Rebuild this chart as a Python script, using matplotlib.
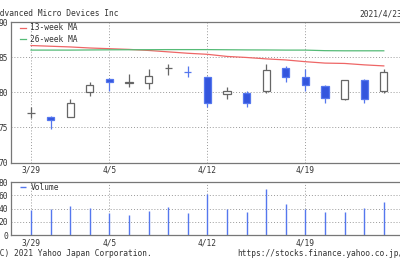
import matplotlib
matplotlib.use("Agg")
import matplotlib.pyplot as plt
import numpy as np

# trading days shown (4/2 market holiday)
dates = ["3/29", "3/30", "3/31", "4/1", "4/5", "4/6", "4/7", "4/8", "4/9",
         "4/12", "4/13", "4/14", "4/15", "4/16", "4/19", "4/20", "4/21", "4/22", "4/23"]
opens = [77.1, 76.5, 76.5, 80.1, 81.9, 81.3, 81.3, 83.5, 82.9,
         82.2, 79.7, 79.9, 80.2, 83.4, 82.2, 80.9, 79.0, 81.8, 80.2]
closes = [77.1, 76.0, 78.4, 81.1, 81.5, 81.5, 82.3, 83.5, 82.85,
          78.5, 80.2, 78.5, 83.1, 82.1, 81.0, 79.2, 81.8, 79.0, 82.9]
highs = [77.9, 76.6, 79.1, 81.4, 82.0, 82.6, 83.3, 84.0, 83.8,
         82.3, 80.8, 80.2, 84.0, 83.8, 83.3, 81.1, 81.8, 81.9, 83.3]
lows = [76.3, 74.8, 76.5, 79.5, 80.2, 80.8, 80.4, 82.4, 82.1,
        77.9, 79.0, 77.9, 79.9, 81.5, 80.2, 78.4, 78.9, 78.5, 79.9]
ma13 = [86.65, 86.55, 86.45, 86.3, 86.2, 86.1, 85.95, 85.75, 85.55,
        85.4, 85.1, 84.95, 84.75, 84.6, 84.35, 84.15, 84.1, 83.9, 83.75]
ma26 = [86.0, 86.0, 86.0, 86.02, 86.04, 86.05, 86.06, 86.07, 86.07,
        86.07, 86.05, 86.03, 86.02, 86.0, 86.0, 85.92, 85.9, 85.9, 85.9]
volume = [38, 40, 44, 41.5, 33, 30.5, 36.5, 42, 34,
          62, 39, 35.5, 69, 47, 40, 35.5, 35.5, 40.5, 50]

tick_idx = [0, 4, 9, 14]
tick_lab = ["3/29", "4/5", "4/12", "4/19"]

FONT = "DejaVu Sans Mono"
FS = 5.7
TXT = "#333333"
FRAME = "#777777"
GRID = "#999999"
UP_EDGE = "#666666"
DN_FILL = "#3355dd"
DN_EDGE = "#5577ee"

plt.rcParams["font.family"] = FONT
plt.rcParams["font.size"] = FS

fig = plt.figure(figsize=(4, 2.6), dpi=100)
ax = fig.add_axes([11.4 / 400, 1 - 162.5 / 260, 392 / 400, 140.5 / 260])
axv = fig.add_axes([11.4 / 400, 1 - 235.3 / 260, 392 / 400, 53.3 / 260])

x = np.arange(len(dates))
w = 0.36
for i in x:
    o, c, h, l = opens[i], closes[i], highs[i], lows[i]
    down = c < o
    col = DN_EDGE if down else UP_EDGE
    ax.vlines(i, l, h, color=col, lw=0.9, zorder=2)
    if abs(c - o) < 0.1:
        ax.hlines(o, i - w / 2, i + w / 2, color=col, lw=0.9, zorder=3)
    else:
        ax.bar(i, abs(c - o), bottom=min(o, c), width=w,
               facecolor=DN_FILL if down else "white",
               edgecolor=col, lw=0.9, zorder=3)

ax.plot(x, ma13, color="#ee6666", lw=0.9, label="13-week MA", zorder=1)
ax.plot(x, ma26, color="#55bb77", lw=0.9, label="26-week MA", zorder=1)

ax.set_xlim(-1, 19)
ax.set_ylim(70, 90)
ax.set_yticks([70, 75, 80, 85, 90])

axv.vlines(x, 0, volume, color=DN_EDGE, lw=1.0, label="Volume")
axv.set_xlim(-1, 19)
axv.set_ylim(0, 80)
axv.set_yticks([0, 20, 40, 60, 80])

for a, hl in ((ax, [75, 80, 85]), (axv, [20, 40, 60])):
    a.set_xticks(tick_idx)
    a.set_xticklabels(tick_lab)
    a.tick_params(length=0, pad=2.5, colors=TXT, labelsize=FS)
    for v in hl:
        a.axhline(v, color=GRID, lw=0.7, ls=(0, (1, 2)), zorder=0)
    for t in tick_idx:
        a.axvline(t, color=GRID, lw=0.7, ls=(0, (1, 2)), zorder=0)
    for s in a.spines.values():
        s.set_color(FRAME)
        s.set_linewidth(0.9)
    a.legend(loc="upper left", bbox_to_anchor=(0.022, 0.99), frameon=False,
             handlelength=0.8, handletextpad=0.5, borderpad=0, borderaxespad=0,
             labelspacing=0.35, labelcolor=TXT, prop={"family": FONT, "size": FS})

fig.text(-4.7 / 400, 1 - 14 / 260, "Advanced Micro Devices Inc", ha="left", va="center", color=TXT)
fig.text(402 / 400, 1 - 14 / 260, "2021/4/23", ha="right", va="center", color=TXT)
fig.text(-4.7 / 400, 1 - 254 / 260, "(C) 2021 Yahoo Japan Corporation.", ha="left", va="center", color=TXT)
fig.text(237 / 400, 1 - 254 / 260, "https://stocks.finance.yahoo.co.jp/", ha="left", va="center", color=TXT)

fig.savefig("out.png", dpi=100)
